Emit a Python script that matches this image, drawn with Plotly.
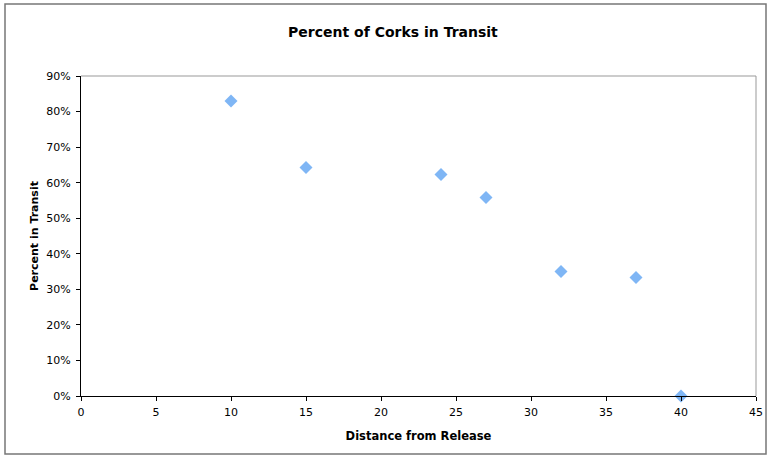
import plotly.graph_objects as go

distance = [10, 15, 24, 27, 32, 37, 40]
percent_in_transit = [0.83, 0.643, 0.623, 0.558, 0.35, 0.333, 0.0]
y_ticks = [0, 0.1, 0.2, 0.3, 0.4, 0.5, 0.6, 0.7, 0.8, 0.9]
x_ticks = [0, 5, 10, 15, 20, 25, 30, 35, 40, 45]

fig = go.Figure()
fig.add_trace(go.Scatter(
    x=distance, y=percent_in_transit, mode="markers",
    marker=dict(symbol="diamond", size=10, color="#7fb6f5",
                line=dict(width=0)),
    cliponaxis=False, showlegend=False))

font = "DejaVu Sans, Liberation Sans, sans-serif"
fig.update_layout(
    width=769, height=457,
    margin=dict(l=81, r=13, t=76, b=61, autoexpand=False),
    paper_bgcolor="white", plot_bgcolor="white",
    title=dict(text="<b>Percent of Corks in Transit</b>", x=0.511, xanchor="center",
               y=0.93, yanchor="middle", font=dict(family=font, size=14, color="#000")),
    font=dict(family=font, size=11, color="#000"),
    xaxis=dict(range=[0, 45], tickvals=x_ticks, ticks="outside", ticklen=4,
               tickcolor="#000", showgrid=False, zeroline=False,
               showline=True, linecolor="#000", linewidth=1, mirror=False,
               ticklabelstandoff=2,
               title=dict(text="<b>Distance from Release</b>", standoff=13,
                          font=dict(family=font, size=11.5))),
    yaxis=dict(range=[0, 0.9], tickvals=y_ticks, tickformat=".0%", ticks="outside",
               ticklen=4, tickcolor="#000", showgrid=False, zeroline=False,
               showline=True, linecolor="#000", linewidth=1,
               ticklabelstandoff=3,
               title=dict(text="<b>Percent in Transit</b>", standoff=5,
                          font=dict(family=font, size=11))),
    shapes=[
        dict(type="line", xref="paper", yref="paper", x0=0, x1=1, y0=1, y1=1,
             line=dict(color="#999", width=1)),
        dict(type="line", xref="paper", yref="paper", x0=1, x1=1, y0=0, y1=1,
             line=dict(color="#999", width=1)),
        dict(type="rect", xref="paper", yref="paper",
             x0=-76/675, x1=1+10/675, y0=-58/320, y1=1+72/320,
             line=dict(color="#777", width=1.5), layer="below"),
    ],
)
fig.write_html("out.html", config={"displayModeBar": False},
               post_script="document.body.style.margin='0';document.body.style.padding='0';")
